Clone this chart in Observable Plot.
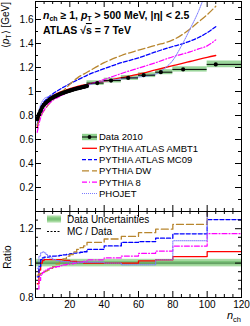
<!DOCTYPE html>
<html><head><meta charset="utf-8">
<script src="https://cdn.jsdelivr.net/npm/d3@7"></script>
<script src="https://cdn.jsdelivr.net/npm/@observablehq/plot@0.6"></script>
<style>
body{margin:0;background:#fff}
#c{position:relative;width:250px;height:326px;font-family:"Liberation Sans",Arial,Helvetica,sans-serif}
#c svg{position:absolute;left:0;overflow:visible}
</style>
</head><body><div id="c"></div>
<script>
// ---------- data ----------
const dataNch = [1,2,3,4,5,6,7,8,9,10,11,12,13,14,15,16,17,18,19,20,21,22,23,24,25,26,27,28,29,30];
const dataPt  = [0.77,0.81,0.84,0.87,0.89,0.905,0.918,0.93,0.941,0.949,0.957,0.964,0.971,0.977,0.983,0.988,0.993,0.998,1.003,1.007,1.012,1.016,1.02,1.024,1.028,1.031,1.035,1.038,1.042,1.045];
const dataErr = 0.012;
const binLo  = [30,40,50,60,70,80,100];
const binHi  = [40,50,60,70,80,100,120];
const binNch = [36,44,54,63,73,86,105];
const binPt  = [1.07,1.091,1.113,1.136,1.161,1.184,1.226];
const binErr = [0.019,0.02,0.02,0.02,0.021,0.022,0.028];

const mcNch   = [1,2,3,4,5,7,10,15,20,25,30,40,50,60,70,80,85,90,95,100,105];
const ambt1   = [0.70,0.77,0.83,0.87,0.895,0.93,0.965,1.0,1.025,1.045,1.06,1.085,1.115,1.145,1.18,1.215,1.232,1.25,1.268,1.285,1.30];
const mc09    = [0.72,0.80,0.86,0.895,0.915,0.945,0.98,1.025,1.065,1.10,1.135,1.19,1.24,1.28,1.33,1.375,1.395,1.42,1.45,1.49,1.54];
const dw      = [0.72,0.76,0.79,0.82,0.84,0.88,0.93,0.99,1.06,1.12,1.16,1.24,1.30,1.345,1.385,1.43,1.47,1.52,1.58,1.64,1.71];
const py8     = [0.66,0.73,0.78,0.82,0.845,0.885,0.925,0.965,1.0,1.03,1.055,1.10,1.15,1.195,1.24,1.29,1.31,1.33,1.355,1.38,1.43];
const phoNch  = [1,2,3,4,5,7,10,15,20,25,30,40,50,60,70,75,80,85,90,95,100];
const phojet  = [0.75,0.84,0.89,0.92,0.94,0.955,0.97,0.99,1.01,1.03,1.05,1.085,1.105,1.12,1.145,1.19,1.26,1.38,1.52,1.67,1.86];

const ratioEdges = [1,2,3,4,5,6,7,8,10,12,14,16,18,20,22,24,26,28,30,40,50,60,70,80,100,120];
const rAMBT1 = [0.88,0.96,1.0,1.015,1.02,1.02,1.02,1.02,1.02,1.02,1.02,1.015,1.015,1.01,1.01,1.005,1.005,1.0,1.0,1.0,1.0,1.013,1.019,1.038,1.067];
const rMC09  = [0.92,0.98,1.02,1.03,1.035,1.035,1.035,1.04,1.04,1.042,1.045,1.048,1.05,1.055,1.058,1.06,1.063,1.066,1.08,1.10,1.12,1.125,1.145,1.17,1.253];
const rDW    = [0.93,0.935,0.94,0.945,0.95,0.955,0.96,0.97,0.98,0.995,1.01,1.025,1.04,1.05,1.065,1.08,1.09,1.10,1.12,1.14,1.155,1.177,1.197,1.225,1.38];
const rPY8   = [0.85,0.90,0.93,0.945,0.955,0.96,0.965,0.97,0.975,0.98,0.985,0.99,0.993,0.996,1.0,1.003,1.006,1.01,1.019,1.03,1.041,1.057,1.07,1.099,1.171];
const rPHO   = [0.97,1.04,1.06,1.065,1.06,1.05,1.04,1.03,1.02,1.015,1.01,1.01,1.008,1.006,1.005,1.005,1.005,1.005,1.005,1.0,0.99,0.99,1.019,1.13,1.5];
const bandOuter = 0.022, bandInner = 0.01;

const yTicksTop = [0.2,0.4,0.6,0.8,1,1.2,1.4,1.6];
const yMinorTop = [0.1,0.3,0.5,0.7,0.9,1.1,1.3,1.5,1.7];
const yTicksR = [0.8,1,1.2];
const yMinorR = [0.85,0.9,0.95,1.05,1.1,1.15,1.25];
const xTicks = [20,40,60,80,100,120];
const xMinor = [5,10,15,25,30,35,45,50,55,65,70,75,85,90,95,105,110,115];

const series = [
  {name:"PYTHIA ATLAS AMBT1", top:ambt1, nch:mcNch, r:rAMBT1, color:"#ff0000", dash:null, w:1.3},
  {name:"PYTHIA ATLAS MC09", top:mc09, nch:mcNch, r:rMC09, color:"#0000ff", dash:"4,2", w:1.3},
  {name:"PYTHIA DW", top:dw, nch:mcNch, r:rDW, color:"#b8862e", dash:"7,3", w:1.3},
  {name:"PYTHIA 8", top:py8, nch:mcNch, r:rPY8, color:"#ff00ff", dash:"5,2,1,2", w:1.2},
  {name:"PHOJET", top:phojet, nch:phoNch, r:rPHO, color:"#7b7bff", dash:"1,1", w:1}
];

// ---------- layout ----------
const W = 250, mL = 35, mR = 9;
const topH = 212, topMT = 1, topMB = 1;
const rH = 115, rMT = 0, rMB = 29;
const uX = 120 / (W - mL - mR);
const uYt = 1.75 / (topH - topMT - topMB);
const uYr = 0.5 / (rH - rMT - rMB);
const fmt = d => String(+d.toFixed(1));
const green = "#8fd08f";
const style = {fontFamily:"'Liberation Sans', Arial, Helvetica, sans-serif", fontSize:"10px", color:"black", background:"transparent", overflow:"visible"};

const dense = dataNch.map((n,i)=>({n, pt:dataPt[i], lo:n-0.5, hi:n+0.5, e:dataErr}));
const bins = binNch.map((n,i)=>({n, pt:binPt[i], lo:binLo[i], hi:binHi[i], e:binErr[i]}));
const allPts = dense.concat(bins);

function tickMarks(yMaj, yMin, xMaj, xMin, y0, y1, uy){
  const m = [];
  const L = 6, S = 3;
  m.push(Plot.ruleY(yMaj, {y:d=>d, x1:0, x2:L*uX, stroke:"black"}));
  m.push(Plot.ruleY(yMin, {y:d=>d, x1:0, x2:S*uX, stroke:"black"}));
  m.push(Plot.ruleY(yMaj, {y:d=>d, x1:120-L*uX, x2:120, stroke:"black"}));
  m.push(Plot.ruleY(yMin, {y:d=>d, x1:120-S*uX, x2:120, stroke:"black"}));
  m.push(Plot.ruleX(xMaj, {x:d=>d, y1:y0, y2:y0+L*uy, stroke:"black"}));
  m.push(Plot.ruleX(xMin, {x:d=>d, y1:y0, y2:y0+S*uy, stroke:"black"}));
  m.push(Plot.ruleX(xMaj, {x:d=>d, y1:y1-L*uy, y2:y1, stroke:"black"}));
  m.push(Plot.ruleX(xMin, {x:d=>d, y1:y1-S*uy, y2:y1, stroke:"black"}));
  return m;
}

// ---------- top panel ----------
const topMarks = [
  Plot.rect(allPts, {x1:"lo", x2:"hi", y1:d=>d.pt-d.e, y2:d=>d.pt+d.e, fill:green, fillOpacity:0.9}),
  ...series.map(s => Plot.line(s.nch.map((n,i)=>({n, v:s.top[i]})), {x:"n", y:"v", stroke:s.color, strokeWidth:s.w, strokeDasharray:s.dash, curve:"monotone-x", clip:true})),
  Plot.ruleY(bins, {y:"pt", x1:"lo", x2:"hi", stroke:"black", strokeWidth:1}),
  Plot.line(dense, {x:"n", y:"pt", stroke:"black", strokeWidth:3.6, curve:"monotone-x"}),
  Plot.dot(allPts, {x:"n", y:"pt", r:2.1, fill:"black", stroke:null}),
  ...tickMarks(yTicksTop, yMinorTop, xTicks.filter(d=>d<120), xMinor, 0, 1.75, uYt),
  Plot.axisY(yTicksTop, {tickSize:0, tickPadding:2, tickFormat:fmt, label:null, fontSize:10}),
  Plot.frame({stroke:"black"})
];
const topSvg = Plot.plot({
  width:W, height:topH, marginLeft:mL, marginRight:mR, marginTop:topMT, marginBottom:topMB,
  x:{domain:[0,120], axis:null}, y:{domain:[0,1.75]},
  style, marks: topMarks
});
topSvg.style.top = "0px";

// ---------- ratio panel ----------
const steps = s => ratioEdges.map((e,i)=>({n:e, v: s.r[Math.min(i, s.r.length-1)]}));
const ratioMarks = [
  Plot.rect([bandOuter], {x1:0, x2:120, y1:d=>1-d, y2:d=>1+d, fill:"#a9dba3"}),
  Plot.rect([bandInner], {x1:0, x2:120, y1:d=>1-d, y2:d=>1+d, fill:"#7cc47a"}),
  Plot.ruleY([1], {stroke:"#4f7f4f", strokeWidth:0.8}),
  ...series.map(s => Plot.line(steps(s), {x:"n", y:"v", stroke:s.color, strokeWidth:s.w, strokeDasharray:s.dash, curve:"step-after", clip:true})),
  ...tickMarks(yTicksR.filter(d=>d>0.8), yMinorR, xTicks.filter(d=>d<120), xMinor, 0.8, 1.3, uYr),
  Plot.axisY(yTicksR, {tickSize:0, tickPadding:2, tickFormat:fmt, label:null, fontSize:10}),
  Plot.axisX(xTicks, {tickSize:0, tickPadding:3, label:null, fontSize:10}),
  Plot.frame({stroke:"black"})
];
const ratioSvg = Plot.plot({
  width:W, height:rH, marginLeft:mL, marginRight:mR, marginTop:rMT, marginBottom:rMB,
  x:{domain:[0,120]}, y:{domain:[0.8,1.3]},
  style, marks: ratioMarks
});
ratioSvg.style.top = "211px";

const c = document.getElementById("c");
c.appendChild(topSvg);
c.appendChild(ratioSvg);

// ---------- annotations & legends ----------
const ff = "'Liberation Sans', Arial, Helvetica, sans-serif";
function txt(sel, x, y, size, anchor){
  return sel.append("text").attr("x",x).attr("y",y).attr("font-family",ff).attr("font-size",size)
    .attr("text-anchor",anchor||"start").attr("fill","black");
}
const T = d3.select(topSvg);
const t1 = txt(T,43,18.5,10.5).attr("font-weight","bold");
t1.append("tspan").attr("font-style","italic").text("n");
t1.append("tspan").attr("font-size",7).attr("dy",2.5).text("ch");
t1.append("tspan").attr("dy",-2.5).text(" \u2265 1, ");
t1.append("tspan").attr("font-style","italic").text("p");
t1.append("tspan").attr("font-size",7).attr("dy",2.5).text("T");
t1.append("tspan").attr("dy",-2.5).text(" > 500 MeV, |\u03B7| < 2.5");
const t2 = txt(T,43,34,10.5).attr("font-weight","bold");
t2.append("tspan").text("ATLAS \u221A");
t2.append("tspan").attr("text-decoration","overline").text("s");
t2.append("tspan").text(" = 7 TeV");

// y title
const yt = txt(T,0,0,10,"end").attr("transform","translate(8.5,2) rotate(-90)");
yt.append("tspan").text("\u27E8");
yt.append("tspan").attr("font-style","italic").text("p");
yt.append("tspan").attr("font-size",7).attr("dy",2.5).text("T");
yt.append("tspan").attr("dy",-2.5).text("\u27E9 [GeV]");

// top legend
const legY0 = 137, legDy = 11.3;
const lg = T.append("g");
lg.append("rect").attr("x",82).attr("y",legY0-3.2).attr("width",15).attr("height",6.4).attr("fill",green);
lg.append("line").attr("x1",82).attr("x2",97).attr("y1",legY0).attr("y2",legY0).attr("stroke","black");
lg.append("circle").attr("cx",89.5).attr("cy",legY0).attr("r",1.9).attr("fill","black");
txt(lg,99,legY0,9.5).attr("dy","0.35em").text("Data 2010");
series.forEach((s,i)=>{
  const y = legY0 + legDy*(i+1);
  lg.append("line").attr("x1",82).attr("x2",97).attr("y1",y).attr("y2",y).attr("stroke",s.color).attr("stroke-width",s.w).attr("stroke-dasharray",s.dash);
  txt(lg,99,y,9.5).attr("dy","0.35em").text(s.name);
});

// ratio legend, labels
const R = d3.select(ratioSvg);
R.append("rect").attr("x",47).attr("y",8-3.5).attr("width",14).attr("height",7).attr("fill","#a9dba3");
R.append("rect").attr("x",47).attr("y",8-1.6).attr("width",14).attr("height",3.2).attr("fill","#7cc47a");
txt(R,67,8,10).attr("dy","0.35em").text("Data Uncertainties");
R.append("line").attr("x1",47).attr("x2",61).attr("y1",20.5).attr("y2",20.5).attr("stroke","black").attr("stroke-width",1.2).attr("stroke-dasharray","2,1.5");
txt(R,67,20.5,10).attr("dy","0.35em").text("MC / Data");
txt(R,0,0,10,"middle").attr("transform","translate(11,46) rotate(-90)").text("Ratio");
const xt = txt(R,241,108,11,"end");
xt.append("tspan").attr("font-style","italic").text("n");
xt.append("tspan").attr("font-size",7.5).attr("dy",2.5).text("ch");
</script>
</body></html>
